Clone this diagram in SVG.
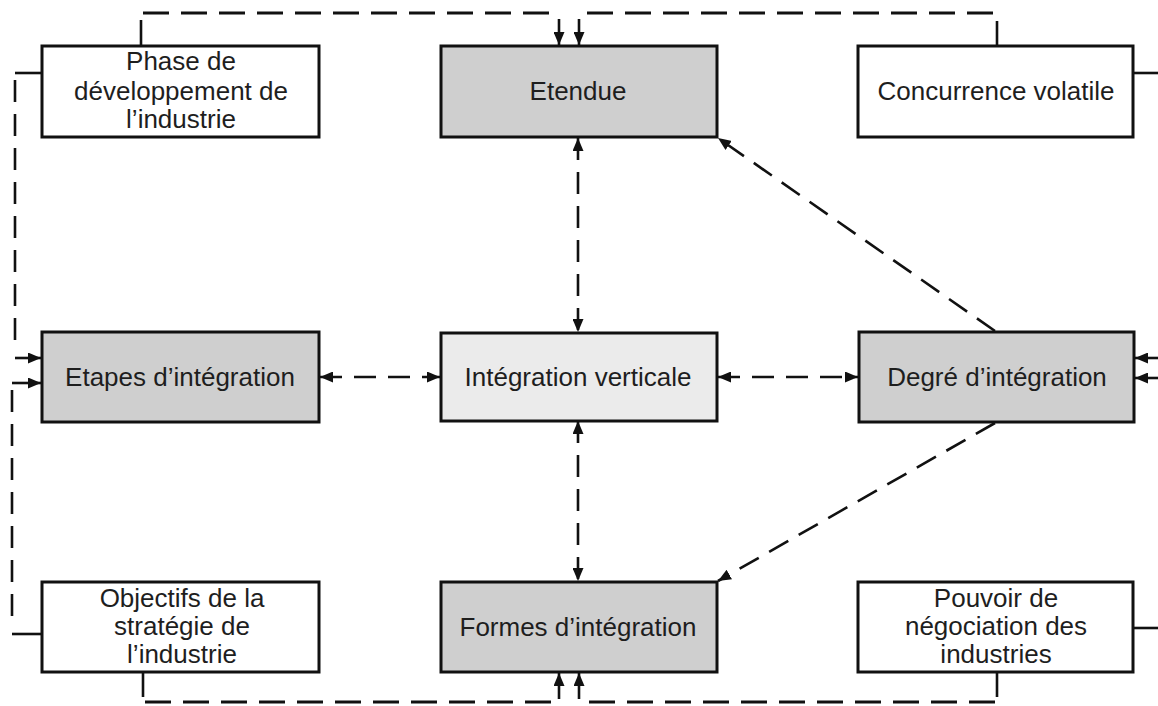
<svg xmlns="http://www.w3.org/2000/svg" width="1158" height="706" viewBox="0 0 1158 706">
<style>
.box{stroke:#111;stroke-width:3;}
.white{fill:#fff;}
.gray{fill:#cfcfcf;}
.light{fill:#ebebeb;}
text{font-family:"Liberation Sans",Arial,sans-serif;font-size:26px;fill:#1e1e1e;text-anchor:middle;}
.c{fill:none;stroke:#111;stroke-width:2.6;}
.d{stroke-dasharray:22 12;}
.dl{stroke-dasharray:26 12;stroke-width:3;}
</style>
<defs>
<marker id="ah" viewBox="0 0 13 11" refX="13" refY="5.5" markerWidth="13" markerHeight="11" markerUnits="userSpaceOnUse" orient="auto-start-reverse">
<path d="M0,0 L13,5.5 L0,11 z" fill="#111"/>
</marker>
</defs>
<rect width="1158" height="706" fill="#fff"/>
<g id="connectors">
<path class="c" d="M141,46 V20"/>
<path class="c dl" d="M143,13 H557"/>
<path class="c" d="M559,19 V45" marker-end="url(#ah)"/>
<path class="c" d="M997,46 V21"/>
<path class="c dl" d="M993,13 H583"/>
<path class="c" d="M579,19 V45" marker-end="url(#ah)"/>
<path class="c" d="M143,672 V697"/>
<path class="c dl" d="M145,702 H555"/>
<path class="c" d="M559,699 V673" marker-end="url(#ah)"/>
<path class="c" d="M997,672 V697"/>
<path class="c dl" d="M995,702 H583"/>
<path class="c" d="M579,699 V673" marker-end="url(#ah)"/>
<path class="c" d="M15,73 H42"/>
<path class="c d" d="M15,80 V352"/>
<path class="c" d="M15,358 H41" marker-end="url(#ah)"/>
<path class="c" d="M12,383 H41" marker-end="url(#ah)"/>
<path class="c d" d="M12,390 V628"/>
<path class="c" d="M12,634 H42"/>
<path class="c" d="M1134,73 H1158"/>
<path class="c" d="M1158,358 H1135" marker-end="url(#ah)"/>
<path class="c" d="M1158,378 H1135" marker-end="url(#ah)"/>
<path class="c" d="M1134,628 H1158"/>
<path class="c d" d="M320,377 H440" marker-start="url(#ah)" marker-end="url(#ah)"/>
<path class="c d" d="M718,377 H858" marker-start="url(#ah)" marker-end="url(#ah)"/>
<path class="c d" d="M578,138 V332" marker-start="url(#ah)" marker-end="url(#ah)"/>
<path class="c d" d="M578,421 V581" marker-start="url(#ah)" marker-end="url(#ah)"/>
<path class="c d" d="M995,331 L718,138" marker-end="url(#ah)"/>
<path class="c d" d="M995,423 L718,581" marker-end="url(#ah)"/>
</g>
<g id="phase">
<rect class="box white" x="42" y="46" width="277" height="91"/>
<text x="181" y="70">Phase de</text>
<text x="181" y="100">développement de</text>
<text x="181" y="128">l’industrie</text>
</g>
<g id="etendue">
<rect class="box gray" x="441" y="46" width="276" height="91"/>
<text x="578" y="100">Etendue</text>
</g>
<g id="concurrence">
<rect class="box white" x="858" y="46" width="275" height="91"/>
<text x="996" y="100">Concurrence volatile</text>
</g>
<g id="etapes">
<rect class="box gray" x="42" y="332" width="277" height="90"/>
<text x="180" y="386">Etapes d’intégration</text>
</g>
<g id="integration">
<rect class="box light" x="441" y="333" width="276" height="88"/>
<text x="578" y="386">Intégration verticale</text>
</g>
<g id="degre">
<rect class="box gray" x="859" y="332" width="275" height="90"/>
<text x="997" y="386">Degré d’intégration</text>
</g>
<g id="objectifs">
<rect class="box white" x="42" y="582" width="277" height="90"/>
<text x="182" y="607">Objectifs de la</text>
<text x="182" y="635">stratégie de</text>
<text x="182" y="663">l’industrie</text>
</g>
<g id="formes">
<rect class="box gray" x="441" y="582" width="276" height="90"/>
<text x="578" y="636">Formes d’intégration</text>
</g>
<g id="pouvoir">
<rect class="box white" x="858" y="582" width="275" height="90"/>
<text x="996" y="607">Pouvoir de</text>
<text x="996" y="635">négociation des</text>
<text x="996" y="663">industries</text>
</g>
</svg>
